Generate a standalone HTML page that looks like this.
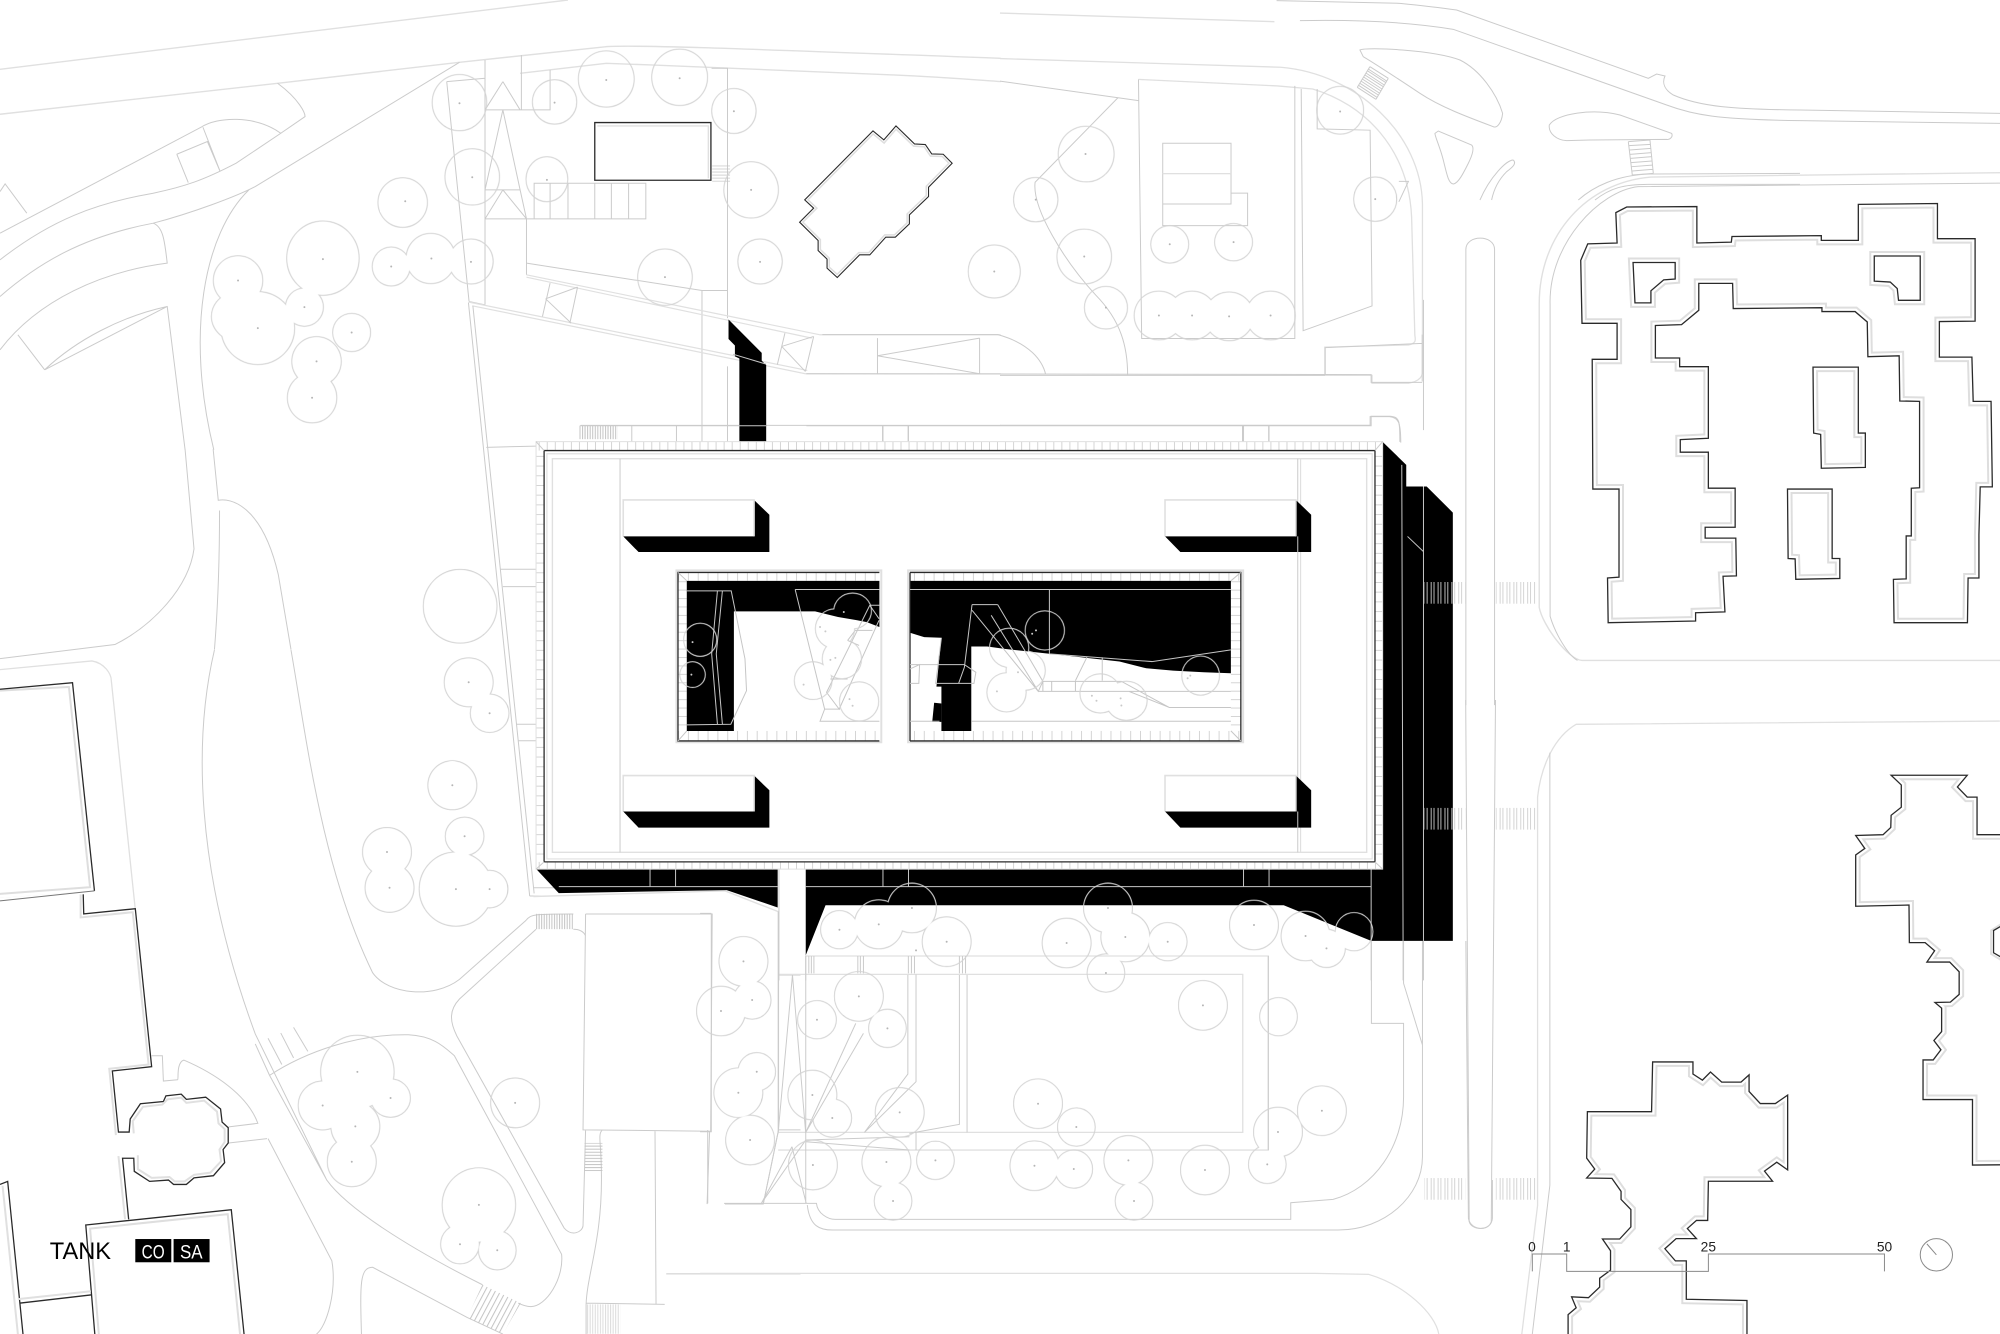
<!DOCTYPE html>
<html><head><meta charset="utf-8"><title>TANK site plan</title>
<style>
html,body{margin:0;padding:0;background:#fff;width:2000px;height:1334px;overflow:hidden}
svg{display:block}
svg *{vector-effect:non-scaling-stroke}
.l{fill:none;stroke:#cbcbcb;stroke-width:1}
.p{fill:none;stroke:#e0e0e0;stroke-width:2}
.d{fill:none;stroke:#2a2a2a;stroke-width:1.3;stroke-linejoin:miter}
.o{fill:none;stroke:#c6c6c6;stroke-width:1}
.i1{fill:none;stroke:#dedede;stroke-width:10}
.i2{fill:none;stroke:#fff;stroke-width:6}
.j1{fill:none;stroke:#dedede;stroke-width:6}
.j2{fill:none;stroke:#fff;stroke-width:3}
.dot{fill:none;stroke:#b5b5b5;stroke-width:2;stroke-linecap:round}
text{font-family:"Liberation Sans",sans-serif}
</style></head><body>
<svg width="2000" height="1334" viewBox="0 0 1567 1045.2" xmlns="http://www.w3.org/2000/svg">
<defs>
<pattern id="tv" width="6.3" height="10" patternUnits="userSpaceOnUse"><rect width=".7" height="10" fill="#d0d0d0"/></pattern>
<pattern id="th" width="10" height="7.6" patternUnits="userSpaceOnUse"><rect width="10" height=".7" fill="#d0d0d0"/></pattern>
<pattern id="cv" width="7.7" height="10" patternUnits="userSpaceOnUse"><rect width=".7" height="10" fill="#d0d0d0"/></pattern>
<pattern id="ch" width="10" height="6.6" patternUnits="userSpaceOnUse"><rect width="10" height=".7" fill="#d0d0d0"/></pattern>
<pattern id="cw" width="5.4" height="20" patternUnits="userSpaceOnUse"><rect width=".7" height="20" fill="#cfcfcf"/><rect x="3.2" width=".7" height="20" fill="#cfcfcf"/></pattern>
<pattern id="hv" width="2" height="10" patternUnits="userSpaceOnUse"><rect width=".8" height="10" fill="#c4c4c4"/></pattern>
<pattern id="hh" width="10" height="2.4" patternUnits="userSpaceOnUse"><rect width="10" height=".8" fill="#c4c4c4"/></pattern>
<pattern id="hr" width="3.6" height="10" patternUnits="userSpaceOnUse" patternTransform="rotate(28)"><rect width=".8" height="10" fill="#c4c4c4"/></pattern>

<path id="pB" d="M965,490L982,477L1092,476V560L1146,558L1147,545L1287,543V554H1345V471L1469,469V550H1528V740L1472,741V823H1523L1525,925H1553L1555,1122H1536L1534,1232V1332H1517L1516,1435H1401L1400,1335L1420,1334V1235H1428V1125L1441,1124V925L1410,924L1409,820L1360,822L1359,742L1340,718H1288V709L1149,711L1148,653H1095V715L1068,748L1027,750V825H1065V845H1110V1010L1066,1013V1042H1110V1125H1152V1215H1105V1240H1153L1154,1327L1133,1328L1136,1410L1090,1412V1431L953,1435L952,1332L970,1330V1127H929L928,828H967V745H912L910,600L921,562L967,560ZM992,605H1058V643L1040,645L1020,670V698H995ZM1370,590H1442V692H1408L1406,665L1395,650L1370,648Z"/>
<path id="pC" d="M1274,846H1345V998H1356V1077L1287,1079L1286,1001L1275,998ZM1234,1127H1304V1287H1316V1333L1247,1335L1246,1288L1235,1287Z"/>
<path id="pR" d="M1258,186H1475L1447,215L1475,240H1503V333H1800V1148L1490,1150V988H1349V890H1378L1400,865L1380,842L1402,820V762L1383,748L1427,747L1452,728V672L1425,648H1360L1382,620L1355,600H1310L1309,507L1157,510V383L1183,367L1157,335L1235,333L1257,315L1258,285L1287,265V210Z"/>
<path id="pS" d="M578,895H693V925L720,940L743,920L775,945H830L853,927V968L885,998H928L963,977V1162L932,1143L897,1165L920,1190H737L735,1287H703L677,1307L703,1332H645L613,1357L643,1387H674V1482L847,1485V1700H337V1520L360,1503L347,1476L395,1478L427,1452V1430L458,1410V1362L435,1333H484L516,1303V1260L488,1235V1215L462,1183L390,1182L413,1160L390,1133L392,1018H575Z"/>
<path id="pN" d="M1368,393L1385,420L1404,378L1433,432L1450,434L1460,462L1478,463L1492,490L1455,562V590L1425,645V672L1403,712H1388L1363,765H1347L1312,833L1296,805V778L1282,752V722L1253,667L1275,625L1261,600Z"/>
<path id="pW1" d="M-100,90L142,75L185,552L-100,577Z"/>
<path id="pW3" d="M168,1318L453,1283L478,1568V1700H195Z"/>
<clipPath id="cB"><use href="#pB" clip-rule="evenodd"/></clipPath>
<clipPath id="cC"><use href="#pC"/></clipPath>
<clipPath id="cR"><use href="#pR"/></clipPath>
<clipPath id="cS"><use href="#pS"/></clipPath>
<clipPath id="cN"><use href="#pN"/></clipPath>
<clipPath id="cW1"><use href="#pW1"/></clipPath>
<clipPath id="cW3"><use href="#pW3"/></clipPath>

<g id="trees">
<g transform="scale(.5 .261)">
<ellipse cx="950" cy="237" rx="43" ry="83"/><ellipse cx="1065" cy="232" rx="43" ry="83"/><ellipse cx="869" cy="306" rx="34" ry="65"/><ellipse cx="720" cy="308" rx="42" ry="83"/><ellipse cx="740" cy="531" rx="42" ry="83"/><ellipse cx="857" cy="538" rx="32" ry="66"/><ellipse cx="1150" cy="333" rx="34" ry="66"/><ellipse cx="1177" cy="570" rx="42" ry="83"/><ellipse cx="1191" cy="785" rx="34" ry="66"/><ellipse cx="1042" cy="832" rx="42" ry="83"/><ellipse cx="631" cy="608" rx="38" ry="73"/><ellipse cx="1558" cy="815" rx="40" ry="78"/>
<ellipse cx="506" cy="775" rx="56" ry="110"/><ellipse cx="373" cy="842" rx="38" ry="73"/><ellipse cx="380" cy="950" rx="48" ry="78"/><ellipse cx="404" cy="985" rx="57" ry="108"/><ellipse cx="477" cy="922" rx="29" ry="56"/><ellipse cx="551" cy="998" rx="29" ry="56"/><ellipse cx="496" cy="1085" rx="38" ry="73"/><ellipse cx="489" cy="1194" rx="38" ry="74"/><ellipse cx="613" cy="800" rx="29" ry="57"/><ellipse cx="675" cy="776" rx="38" ry="74"/><ellipse cx="738" cy="785" rx="34" ry="66"/>
</g>
<g transform="translate(783.5 0) scale(.5 .34)">
<ellipse cx="533" cy="254" rx="36" ry="54"/><ellipse cx="135" cy="355" rx="43" ry="63"/><ellipse cx="56" cy="460" rx="34" ry="50"/><ellipse cx="132" cy="591" rx="42" ry="62"/><ellipse cx="166" cy="709" rx="33" ry="48"/><ellipse cx="588" cy="459" rx="33" ry="50"/><ellipse cx="266" cy="563" rx="29" ry="42"/><ellipse cx="366" cy="558" rx="29" ry="42"/><ellipse cx="249" cy="727" rx="38" ry="55"/><ellipse cx="301" cy="727" rx="38" ry="55"/><ellipse cx="359" cy="729" rx="38" ry="55"/><ellipse cx="424" cy="727" rx="38" ry="55"/>
</g>
<g transform="translate(0 509.3) scale(.4 .3418)">
<ellipse cx="918" cy="74" rx="47" ry="55"/><ellipse cx="959" cy="145" rx="37" ry="43"/><ellipse cx="886" cy="310" rx="47" ry="55"/><ellipse cx="758" cy="463" rx="47" ry="55"/><ellipse cx="763" cy="545" rx="47" ry="55"/><ellipse cx="910" cy="427" rx="37" ry="43"/><ellipse cx="893" cy="548" rx="71" ry="84"/><ellipse cx="959" cy="548" rx="35" ry="42"/><ellipse cx="700" cy="967" rx="71" ry="83"/><ellipse cx="632" cy="1044" rx="47" ry="55"/><ellipse cx="765" cy="1027" rx="38" ry="43"/><ellipse cx="696" cy="1092" rx="47" ry="56"/><ellipse cx="689" cy="1173" rx="47" ry="56"/><ellipse cx="1009" cy="1038" rx="47" ry="56"/><ellipse cx="938" cy="1272" rx="71" ry="84"/><ellipse cx="901" cy="1362" rx="37" ry="44"/><ellipse cx="974" cy="1376" rx="36" ry="44"/>
</g>
<g transform="translate(548.5 689.5) scale(.4 .2612)">
<ellipse cx="273" cy="149" rx="36" ry="56"/><ellipse cx="350" cy="133" rx="47" ry="72"/><ellipse cx="415" cy="84" rx="47" ry="73"/><ellipse cx="483" cy="185" rx="47" ry="73"/><ellipse cx="718" cy="189" rx="47" ry="73"/><ellipse cx="799" cy="84" rx="47" ry="73"/><ellipse cx="833" cy="171" rx="47" ry="73"/><ellipse cx="916" cy="185" rx="37" ry="56"/><ellipse cx="795" cy="279" rx="36" ry="56"/><ellipse cx="1085" cy="135" rx="47" ry="73"/><ellipse cx="1186" cy="168" rx="47" ry="73"/><ellipse cx="1227" cy="205" rx="36" ry="56"/><ellipse cx="1281" cy="155" rx="36" ry="56"/>
<ellipse cx="311" cy="349" rx="47" ry="73"/><ellipse cx="229" cy="419" rx="37" ry="56"/><ellipse cx="367" cy="445" rx="36" ry="56"/><ellipse cx="985" cy="376" rx="47" ry="73"/><ellipse cx="1133" cy="410" rx="36" ry="56"/><ellipse cx="662" cy="671" rx="47" ry="73"/><ellipse cx="737" cy="741" rx="36" ry="56"/><ellipse cx="220" cy="645" rx="47" ry="73"/><ellipse cx="259" cy="714" rx="37" ry="56"/><ellipse cx="391" cy="697" rx="47" ry="73"/><ellipse cx="1218" cy="692" rx="47" ry="73"/><ellipse cx="1132" cy="756" rx="47" ry="73"/><ellipse cx="1111" cy="853" rx="36" ry="56"/><ellipse cx="221" cy="855" rx="47" ry="73"/><ellipse cx="365" cy="846" rx="47" ry="73"/><ellipse cx="461" cy="841" rx="36" ry="56"/><ellipse cx="655" cy="857" rx="47" ry="73"/><ellipse cx="732" cy="867" rx="36" ry="56"/><ellipse cx="839" cy="841" rx="47" ry="73"/><ellipse cx="850" cy="963" rx="36" ry="56"/><ellipse cx="989" cy="870" rx="47" ry="73"/><ellipse cx="378" cy="963" rx="36" ry="56"/>
<ellipse cx="85" cy="244" rx="47" ry="73"/><ellipse cx="102" cy="360" rx="36" ry="56"/><ellipse cx="41" cy="393" rx="47" ry="73"/><ellipse cx="111" cy="575" rx="36" ry="56"/><ellipse cx="75" cy="638" rx="47" ry="73"/><ellipse cx="98" cy="780" rx="47" ry="73"/>
</g>
<ellipse cx="360.5" cy="475" rx="28.5" ry="28.5"/>
<g transform="translate(517.1 438.8) scale(.3 .2625)">
<ellipse cx="105" cy="238" rx="42" ry="48"/><ellipse cx="85" cy="342" rx="32" ry="37"/><ellipse cx="503" cy="152" rx="48" ry="52"/><ellipse cx="457" cy="205" rx="50" ry="58"/><ellipse cx="475" cy="295" rx="50" ry="58"/><ellipse cx="400" cy="360" rx="48" ry="55"/><ellipse cx="520" cy="422" rx="50" ry="57"/>
<ellipse cx="1005" cy="210" rx="50" ry="57"/><ellipse cx="912" cy="262" rx="50" ry="57"/><ellipse cx="955" cy="330" rx="50" ry="57"/><ellipse cx="905" cy="395" rx="50" ry="57"/><ellipse cx="1150" cy="398" rx="52" ry="57"/><ellipse cx="1218" cy="420" rx="53" ry="57"/><ellipse cx="1412" cy="345" rx="48" ry="57"/>
</g>
</g>
<mask id="tm" maskUnits="userSpaceOnUse" x="0" y="0" width="1567" height="1046">
<rect width="1567" height="1046" fill="#fff"/>
<use href="#trees" fill="#000" stroke="none"/>
</mask>
</defs>

<rect width="1567" height="1046" fill="#fff"/>

<!-- Z2: north-west -->
<g transform="scale(.5 .261)">
<path class="p" style="stroke-width:1.4" d="M0,208L890,0M0,343L435,250L720,187L950,140C1000,135 1100,142 1568,175M815,220L950,190L1020,195L1400,225C1480,232 1530,240 1568,245"/>
<path class="l" d="M435,250C470,300 478,340 478,350L440,400M0,700L315,382C340,350 400,345 440,400L370,490C320,540 290,560 240,580C150,610 80,660 0,780M720,187L400,560C370,590 300,640 240,670C130,710 60,790 0,890M240,670C255,680 258,720 262,790C160,815 60,900 0,1050M262,920L70,1110M70,1110C120,1020 190,950 262,920L290,1350M70,1110L28,1005M0,575L8,552L42,640M277,463L325,425L345,515M318,382L345,515M277,463L295,548M390,570C320,700 290,1000 335,1350"/>
<path class="l" d="M700,245L735,905M700,245L760,235M760,180L760,915M735,905L760,915M817,165L817,330M760,330L862,330L862,210M788,245L760,330M788,245L815,330M788,330L760,570M788,330L815,570L825,657M760,570L815,570M788,570L760,657M788,570L825,657M760,657L1012,657L1012,550L837,550L837,657M862,550L862,657M890,550V657M932,550V657M958,550V657M985,550V657M825,657V825M825,790L1100,872H1140M1115,205H1140V955M1100,872V1325M1140,1100V1325"/>
<path class="p" style="stroke-width:1.2" d="M825,825L1285,1005L1568,1005M825,832L1272,1015M735,907L1265,1112M740,918L1262,1122H1568"/>
<path class="l" d="M855,897L905,862M855,897L895,970M862,850L850,950M905,862L893,970M1225,1040L1275,1010M1225,1040L1262,1115M1230,1000L1218,1095M1275,1010L1262,1115M1375,1015V1122M1375,1068L1535,1015M1375,1068L1535,1122M1535,1015V1122M910,1277H1568M990,1277V1325M1060,1277V1325M1383,1277V1325M1423,1277V1325"/>
<rect class="d" x="932" y="368" width="182" height="173"/>
<path class="p" style="stroke-width:1.4" d="M936,378H1110V535"/>
<g clip-path="url(#cN)"><use href="#pN" class="j1"/><use href="#pN" class="j2"/></g>
<use href="#pN" class="d" style="stroke-width:1.1"/>
<path class="dot" d="M950,240h0M1065,235h0M869,308h0M720,310h0M740,532h0M857,540h0M1150,334h0M1177,570h0M1191,786h0M1042,832h0M635,604h0M1558,815h0M506,778h0M373,842h0M404,985h0M477,922h0M551,998h0M496,1085h0M489,1194h0M613,800h0M676,776h0M738,786h0"/>
</g>

<!-- global road connections -->
<path class="l" d="M145,352L152,430C148,460 120,490 90,505L0,516M167,352L171,392C180,390 205,395 218,450L228,509M168,509C172,460 172,420 172,400"/>
<path class="l" d="M367,237L415,702M370.5,239.6L418.5,700M381,350.5L420,349.5M392,446H420M394,459.6H420M404.5,567.5H420M406,580.4H420M415,702L424,702"/>

<!-- Z3: north-east -->
<g transform="translate(783.5 0) scale(.5 .34)">
<path class="p" style="stroke-width:1.4" d="M0,30L430,50"/>
<path class="p" style="stroke-width:1.3" d="M0,135L440,155C560,170 660,310 662,470V860C660,880 640,883 640,883H583V865H509V800L640,795C655,790 650,780 650,770L645,500C640,340 570,240 490,205L435,198L217,183"/>
<path class="l" d="M0,187L217,232M217,183L222,780H462V198M472,205L475,762L583,705L580,300L497,297V205M625,418H640L625,465M255,330H362V470H255ZM255,400H362M362,445H388V520H255V470M185,225L55,420C50,480 100,600 150,680C190,740 200,800 200,865M0,865H509"/>
<path class="p" style="stroke-width:1.2" d="M255,400H362"/>
<path class="l" d="M0,980H580V960H610C625,962 628,975 628,1020M380,980V1020M421,980V1020M380,980H421"/>
<path class="l" d="M730,1625V575C730,540 775,540 775,575V1625"/>
<path class="p" style="stroke-width:1.4" d="M1568,398L1020,408C920,420 845,540 845,700V1400C850,1440 890,1520 912,1522H1568"/>
<path class="l" d="M1568,422L1000,430C940,440 860,560 862,700V1420C870,1460 890,1510 905,1522"/>
<g clip-path="url(#cB)"><use href="#pB" class="i1"/><use href="#pB" class="i2"/></g>
<use href="#pB" class="d"/>
<g clip-path="url(#cC)"><use href="#pC" class="i1"/><use href="#pC" class="i2"/></g>
<use href="#pC" class="d"/>
<path class="dot" d="M533,257h0M134,355h0M56,460h0M132,591h0M166,709h0M588,459h0M266,563h0M366,558h0M249,727h0M301,727h0M359,729h0M424,727h0"/>
</g>

<!-- NE road / islands -->
<g transform="translate(1018.5 0) scale(.2612 .2612)">
<path class="l" d="M-70,2L300,10C400,20 470,30 470,30L1045,235L1070,222L1095,228C1085,250 1095,270 1120,285C1200,320 1300,328 1500,330L2100,340"/>
<path class="l" d="M0,62C200,58 350,70 460,88L1100,315C1180,345 1250,358 1500,362L2100,370"/>
<path class="l" d="M180,150C200,140 400,150 480,180C540,210 590,280 608,340C605,370 590,385 580,380C500,350 420,320 360,280C300,240 240,200 190,170Z"/>
<path class="l" d="M405,400L415,393L515,435C525,445 515,470 505,490C490,520 475,550 460,552C445,550 440,520 430,480C420,440 405,410 405,400Z"/>
<path class="l" d="M640,480C650,490 640,500 620,515C590,545 580,575 575,600M640,480C620,480 570,530 540,600"/>
<path class="l" d="M748,375C770,340 880,325 960,345L1115,400C1120,410 1110,420 1100,418L870,420L800,422C770,420 745,400 748,375Z"/>
<path class="l" d="M210,200L265,235M205,207L260,243M202,212L258,248M198,219L253,255M195,225L250,260M191,231L246,267M187,237L243,273M183,243L238,279M180,250L235,285M176,256L231,292M172,262L228,298M210,200L172,262M265,235L228,298"/>
<path class="l" d="M985,425L1050,420M987,437L1052,433M989,450L1053,445M990,463L1055,458M992,475L1056,470M993,488L1057,483M995,500L1058,495M997,513L1059,508M997,525L1060,520M985,425L997,525M1050,420L1060,520"/>
<path class="l" d="M835,600C880,560 950,525 1050,522L1500,520M885,600C930,565 970,552 1050,553L1500,553"/>
</g>

<!-- Z4: south-west -->
<g transform="translate(0 509.3) scale(.4 .3418)">
<path class="p" style="stroke-width:1.3" d="M0,45L180,25C205,30 218,55 218,70L265,595"/>
<path class="l" d="M420,0C380,200 380,500 500,880L640,1215C680,1280 800,1370 945,1455M570,0C600,200 630,500 730,740C760,790 850,800 900,755L1030,620C1040,605 1050,605 1123,605M1123,640C1140,640 1145,650 1147,655M1050,640L900,800C880,825 880,850 895,885L1105,1325C1120,1345 1140,1335 1142,1320L1147,1100M1147,605H1395L1392,1103L1142,1100L1147,605M528,975C600,920 700,880 800,882C850,885 870,910 890,930L1100,1385C1105,1440 1070,1505 1040,1505C1030,1505 1020,1500 1015,1497M500,903L528,975M525,890L552,950M550,878L575,935M575,865L603,920M528,975L640,1215M525,1120L650,1400C660,1470 640,1550 620,1568M448,1130L523,1120M448,1093L505,1085C485,1020 420,970 360,940C345,945 350,985 348,985L320,988L318,930L297,930M708,1568C705,1450 705,1415 730,1415L915,1530L985,1568M1180,1100C1170,1110 1178,1130 1178,1200C1180,1350 1150,1430 1148,1500V1568M1148,1497L1302,1500M1283,1103L1285,1500M1390,1103L1385,1270M1420,1270H1495L1525,1100M1305,1430H1568M1525,600V1100M1525,745H1568M1525,1100H1568"/>
<path class="p" style="stroke-width:1.4" d="M1045,565L1420,552L1525,600"/>
<path class="l" d="M1045,545H1090M1495,1270L1525,1100"/>
<!-- left buildings -->
<g clip-path="url(#cW1)"><use href="#pW1" class="i1"/><use href="#pW1" class="i2"/></g>
<path class="p" d="M158,560V613L260,601L291,950L214,960L227,1112M232,1160L245,1305"/>
<path style="fill:none;stroke:#777;stroke-width:1" d="M0,575L185,552"/>
<path class="d" d="M0,90L142,75L185,552M163,560L164,605L265,593L297,955L220,965L232,1105H253L255,1075L275,1040L320,1035L325,1022L355,1018L365,1030L403,1025L432,1052L435,1082L447,1095V1130L437,1145L440,1175L418,1205L380,1210L365,1225H340L330,1215L293,1218L263,1195L262,1165H240L252,1305"/>
<path class="p" d="M262,1108L260,1080L280,1047L318,1042L328,1030L355,1026L365,1038L400,1033L425,1058L428,1085L440,1098V1128L430,1145L433,1172L412,1198L380,1203L362,1218H342L332,1208L297,1210L270,1190L270,1158"/>
<g clip-path="url(#cW3)"><use href="#pW3" class="i1"/><use href="#pW3" class="i2"/></g>
<use href="#pW3" class="d"/>
<path class="d" d="M0,1225L15,1218L45,1568M40,1497L180,1478"/>
<path class="p" d="M5,1228L35,1568M35,1488L178,1470"/>
<path class="dot" d="M918,74h0M959,145h0M886,310h0M758,463h0M763,545h0M910,427h0M893,548h0M959,548h0M700,967h0M632,1044h0M765,1027h0M696,1092h0M689,1173h0M1009,1038h0M938,1272h0M901,1362h0M974,1376h0"/>
</g>
<polygon points="366,1032.2 378,1006.6 408,1021 394,1045.2" fill="url(#hr)"/>
<rect x="420" y="716" width="29" height="12" fill="url(#hv)"/>
<rect x="458" y="895.5" width="14" height="22" fill="url(#hh)"/>
<rect x="459" y="1022" width="27" height="23" fill="url(#hv)" opacity=".6"/>
<rect x="454" y="333.6" width="30" height="10.5" fill="url(#hv)"/>
<rect x="558" y="129" width="14" height="14" fill="url(#hh)" opacity=".7"/>

<!-- Z5: south -->
<g transform="translate(548.5 689.5) scale(.4 .2612)">
<path class="p" style="stroke-width:1.3" d="M208,228H1113V810H153M153,283H1063V757H153"/>
<path class="l" d="M1113,228V810M153,95V760M207,228V970M213,228V280M218,228V280M223,228V280M309,228V280M314,228V280M320,228V280M408,228V280M414,228V280M420,228V280M508,228V280M514,228V280M520,228V280M181,285L207,760M181,285L153,757M423,283V605L322,757M407,285V582L322,757M508,285V733L410,760M523,285V757M320,460L207,757M305,430L207,757M207,785L410,810M207,780L410,770M180,800L120,970M180,800L208,970M207,780L120,970M423,757V810M47,970H228C230,1000 250,1018 265,1018H1157V968L1240,958C1320,925 1378,800 1378,650V430H1315V183M15,750V970M22,100V755H0M0,100H22M210,975C215,1040 235,1050 260,1050H1250C1340,1050 1415,950 1415,830V495L1378,310V183M1415,183V495M1500,183L1505,1015C1510,1055 1550,1055 1552,1015V900"/>
<path class="p" style="stroke-width:1.2" d="M0,1180H1205L1310,1183C1380,1215 1440,1300 1447,1362"/>
<path class="dot" d="M273,149h0M350,133h0M415,84h0M483,185h0M423,211h0M718,189h0M799,84h0M833,171h0M916,185h0M795,279h0M1085,135h0M1186,168h0M1227,205h0M1281,155h0M311,349h0M229,419h0M367,445h0M985,376h0M662,671h0M737,741h0M220,645h0M259,714h0M391,697h0M1218,692h0M1132,756h0M1111,853h0M221,855h0M365,846h0M461,841h0M655,857h0M732,867h0M839,841h0M850,963h0M989,870h0M378,963h0M85,244h0M102,360h0M41,393h0M111,575h0M75,638h0M98,780h0"/>
</g>

<!-- Z6: south-east -->
<g transform="translate(1136 548.5) scale(.2748 .3168)">
<path class="p" style="stroke-width:1.3" d="M1568,52L360,60C300,90 260,160 250,240V1250L205,1568"/>
<path class="l" d="M285,130V1200L235,1568M45,0L55,1290C60,1310 110,1315 118,1290L130,0"/>
<g clip-path="url(#cR)"><use href="#pR" class="i1"/><use href="#pR" class="i2"/></g>
<use href="#pR" class="d"/>
<g clip-path="url(#cS)"><use href="#pS" class="i1"/><use href="#pS" class="i2"/></g>
<use href="#pS" class="d"/>
<path class="p" d="M1570,555L1543,570V628L1570,642"/>
<path class="d" d="M1570,560L1550,570V625L1570,635"/>
<path style="fill:none;stroke:#8a8a8a;stroke-width:1" d="M235,1413V1370H333V1413H737V1370H1239V1413M1360,1345L1387,1372"/>
<ellipse cx="1387" cy="1372" rx="46" ry="40" style="fill:none;stroke:#8a8a8a;stroke-width:1"/>
</g>

<!-- black mass -->
<g transform="translate(391.8 235) scale(.5 .34)">
<polygon fill="#000" points="358,45 410,122 410,140 417,150 417,327 375,327 375,135 368,130 368,105 358,90"/>
<polygon fill="#000" points="57,1312 435,1312 435,1400 355,1360 92,1367"/>
<polygon fill="#000" points="479,1312 1383,1312 1383,327 1420,380 1420,430 1452,430 1493,490 1493,1477 1365,1477 1228,1395 510,1395 479,1510"/>
<path class="o" d="M375,290H417M365,125L417,148M479,1352H1365M600,1312V1352M640,1312V1352M1165,1312V1352M1205,1312V1352M235,1312V1352M275,1312V1352M92,1352H435M1365,1312V1477M1413,380L1415,1477M1447,430V1477M1422,545L1447,580"/>
<path class="l" d="M480,170L1365,172V190H1445M1293,172V110L1445,100M505,80H780C830,100 850,140 855,172M1445,80V188M480,290H1365V268H1395C1410,270 1410,280 1410,327M600,290V327M640,290V327M1165,290V327M1205,290V327M125,290H375M437,1312V1568M479,1510V1568M1447,0V300M1447,1477V1568M1365,1477V1568M1415,1477V1568"/>
</g>

<!-- building roof -->
<rect x="420" y="346" width="663.3" height="335" fill="#fff"/>
<rect x="420" y="346" width="663.3" height="7" fill="url(#tv)"/>
<rect x="420" y="675.3" width="663.3" height="6" fill="url(#tv)"/>
<rect x="420" y="353" width="6.3" height="322" fill="url(#th)"/>
<rect x="1077.3" y="353" width="6" height="322" fill="url(#th)"/>
<rect x="420" y="346" width="663.3" height="335" class="p" style="stroke-width:1"/>
<rect x="426.3" y="353" width="651" height="322.3" class="d"/>
<rect x="428.5" y="355.5" width="646.6" height="317.5" class="p" style="stroke-width:1.2"/>
<rect x="432.8" y="359.4" width="638" height="308.4" class="p" style="stroke-width:1.4"/>
<path class="l" d="M485.8,359.4V667.8M1016.8,359.4V667.8M420,346L426.3,353M1083.3,346L1077.3,353M420,681L426.3,675.3M1083.3,681L1077.3,675.3"/>
<path class="p" style="stroke-width:1.2" d="M1019,359.4V667.8"/>

<!-- courtyards -->
<g transform="translate(517.1 438.8) scale(.3 .2625)">
<rect x="43" y="31" width="535" height="513" class="p"/>
<rect x="648" y="31" width="875" height="513" class="p"/>
<rect x="47" y="37" width="526" height="503" fill="#fff"/>
<rect x="653" y="37" width="864" height="503" fill="#fff"/>
</g>
<rect x="531.2" y="448.5" width="157.8" height="6.5" fill="url(#cv)"/>
<rect x="531.2" y="572.7" width="157.8" height="7.5" fill="url(#cv)"/>
<rect x="531.2" y="455" width="6.9" height="118" fill="url(#ch)"/>
<rect x="713" y="448.5" width="259" height="6.5" fill="url(#cv)"/>
<rect x="713" y="572.7" width="259" height="7.5" fill="url(#cv)"/>
<rect x="964.4" y="455" width="7.8" height="118" fill="url(#ch)"/>
<polygon fill="#000" points="538.1,455.1 689,455.1 689,491.3 679.1,487.4 671.6,486 656.6,483.4 638.6,479 575,479 575,572.7 538.1,572.7"/>
<polygon fill="#000" points="713,455.1 964.4,455.1 964.4,527.5 943.1,526.7 919.1,525.4 898.1,523.6 877.1,518.3 823.1,512.3 787.1,508.4 773.6,506.5 761,506.5 761,572.7 737.6,572.7 737.6,538 733.7,538 737.6,499.7 724.1,499.2 713,495.8"/>
<polygon fill="#000" points="731.9,550.6 737.6,551.2 737.6,565.6 730.4,565.6"/>
<g transform="translate(517.1 438.8) scale(.3 .2625)">
<path class="d" d="M573,37H47V540H573M653,37V540M653,37H1517V540H653"/>
<path class="o" d="M47,37L70,62M47,540L70,510M1517,37L1491,62M1517,540L1491,510"/>
<path class="o" d="M70,92H186L222,295L226,390L185,490L70,492M150,92L135,280L150,490M163,92L147,280L163,490M353,88H573M353,88L430,445H470M430,445L418,481H573M548,135H573M548,135L435,395L468,445L572,180M548,135L572,175M490,240L510,210L555,210M490,240L520,255M445,355L490,355"/>
<path class="o" d="M653,88H1491M1017,88V280M815,133H882M815,133L795,320L780,368H720L735,232M882,133L1000,362L988,392L865,165M815,150L988,392M653,312H795L825,335L820,368H780M653,325L678,312L676,368H653M1000,362H1205L1330,440H1491M988,392H1225L1330,440M1000,362V392M1023,362V392M1085,362V392M813,481H1491M653,481H730M1017,280L1285,303L1491,268M1115,290L1085,360M1155,290V360M1225,392L1491,392"/>
<path class="dot" style="stroke:#c9c9c9" d="M85,245h0M82,342h0M480,155h0M418,200h0M432,213h0M445,298h0M458,292h0M375,372h0M495,415h0M503,435h0M982,210h0M972,220h0M935,335h0M880,392h0M1128,405h0M1140,420h0M1203,413h0M1205,434h0M1385,345h0M1378,353h0"/>
</g>

<!-- skylight boxes -->
<g transform="translate(391.8 235) scale(.5 .34)">
<polygon fill="#000" points="398,461 422,495 422,581 217,581 193,545 398,545"/>
<polygon fill="#000" points="1247,461 1271,495 1271,581 1066,581 1042,545 1247,545"/>
<polygon fill="#000" points="398,1096 422,1130 422,1216 217,1216 193,1179 398,1179"/>
<polygon fill="#000" points="1247,1096 1271,1130 1271,1216 1066,1216 1042,1179 1247,1179"/>
<path class="p" style="stroke-width:1.6" d="M193,545V461H398V545M1042,545V461H1247V545M193,1179V1096H398V1179M1042,1179V1096H1247V1179"/>
<path class="o" d="M1250,545V581M1250,1179V1216"/>
</g>

<!-- crossings -->
<rect x="1116" y="456" width="32" height="17" fill="url(#cw)"/>
<rect x="1172" y="456" width="32" height="17" fill="url(#cw)"/>
<rect x="1116" y="633" width="32" height="17" fill="url(#cw)"/>
<rect x="1172" y="633" width="32" height="17" fill="url(#cw)"/>
<rect x="1116" y="923" width="32" height="17" fill="url(#cw)"/>
<rect x="1172" y="923" width="32" height="17" fill="url(#cw)"/>

<!-- trees -->
<g mask="url(#tm)"><use href="#trees" fill="none" stroke="#d3d3d3" stroke-width="2"/></g>

<!-- labels -->
<g font-size="10.8" fill="#222" text-anchor="middle">
<text x="1200.3" y="980.5">0</text>
<text x="1227.5" y="980.5">1</text>
<text x="1338.5" y="980.5">25</text>
<text x="1476.5" y="980.5">50</text>
</g>
<text x="39" y="986.5" font-size="18.5" fill="#000">TANK</text>
<rect x="106" y="970.8" width="28.2" height="18.2" fill="#000"/>
<rect x="136" y="970.8" width="28.2" height="18.2" fill="#000"/>
<text x="111" y="985.9" font-size="15" fill="#fff" textLength="18" lengthAdjust="spacingAndGlyphs">CO</text>
<text x="141" y="985.9" font-size="15" fill="#fff" textLength="17.7" lengthAdjust="spacingAndGlyphs">SA</text>
</svg>
</body></html>
